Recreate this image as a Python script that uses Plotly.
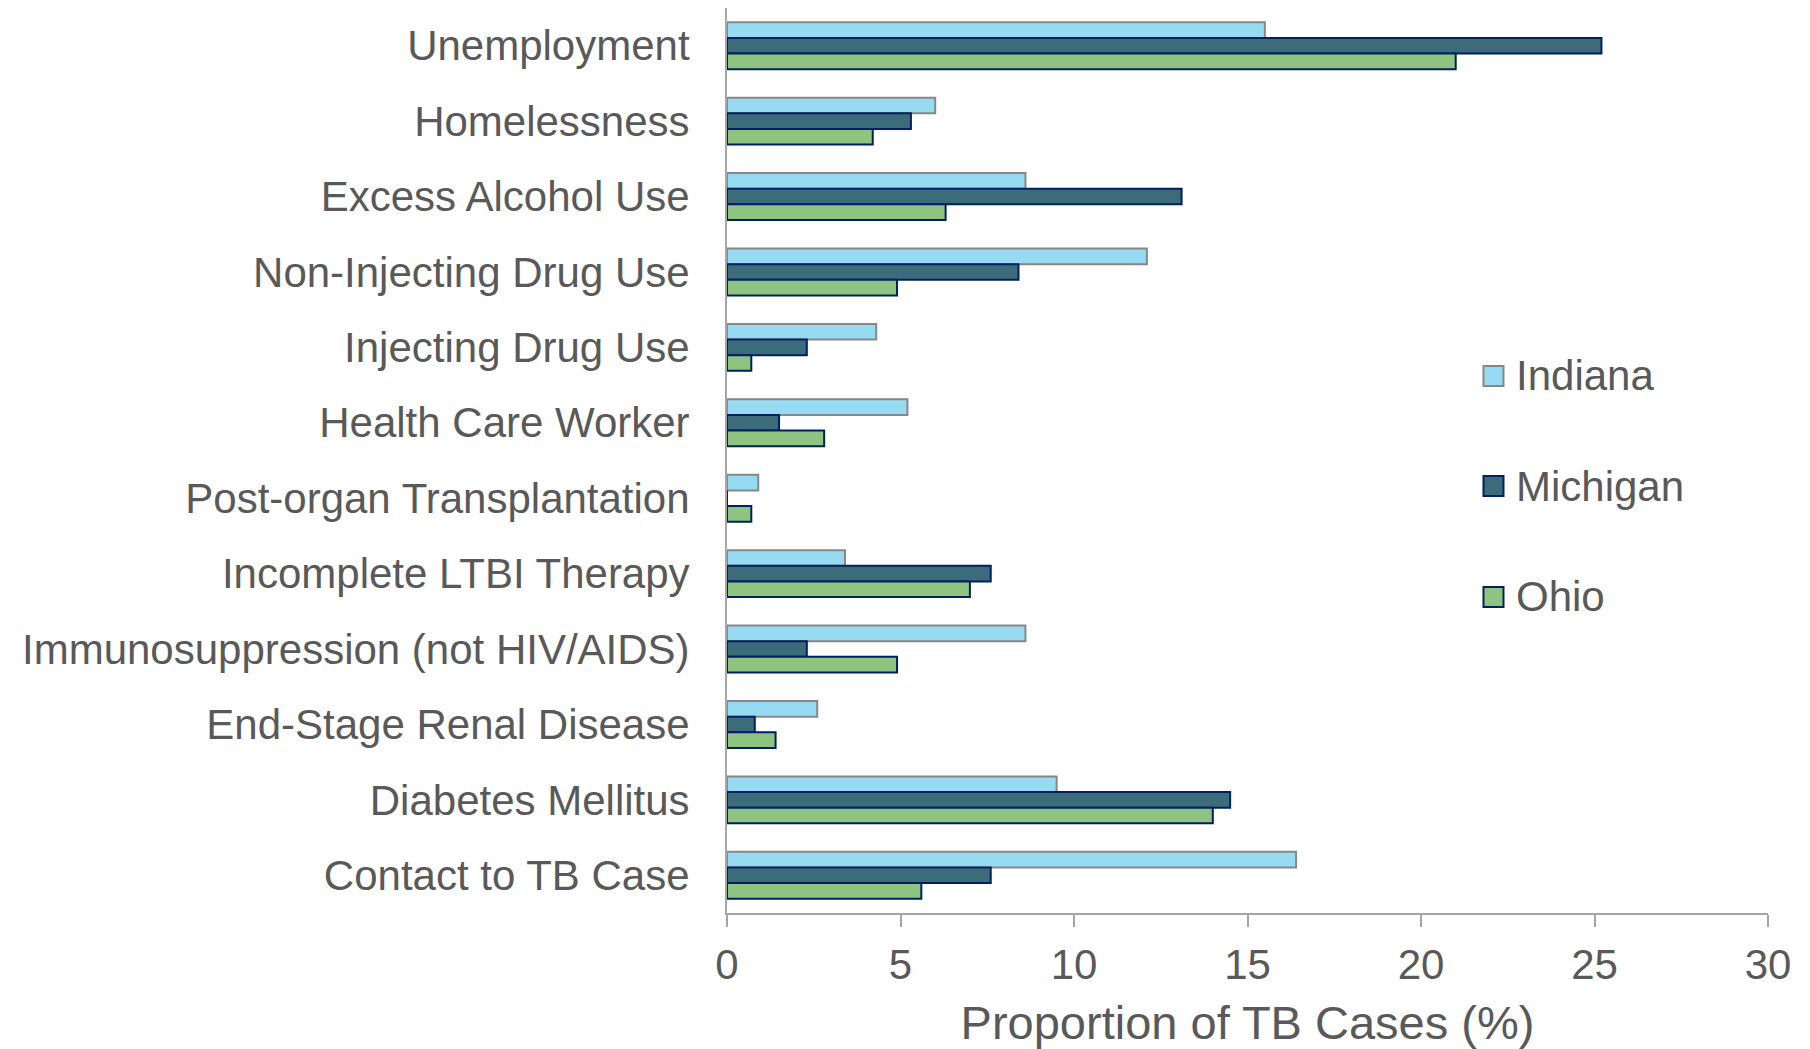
import plotly.graph_objects as go

categories = [
    "Unemployment",
    "Homelessness",
    "Excess Alcohol Use",
    "Non-Injecting Drug Use",
    "Injecting Drug Use",
    "Health Care Worker",
    "Post-organ Transplantation",
    "Incomplete LTBI Therapy",
    "Immunosuppression (not HIV/AIDS)",
    "End-Stage Renal Disease",
    "Diabetes Mellitus",
    "Contact to TB Case",
]
indiana = [15.5, 6.0, 8.6, 12.1, 4.3, 5.2, 0.9, 3.4, 8.6, 2.6, 9.5, 16.4]
michigan = [25.2, 5.3, 13.1, 8.4, 2.3, 1.5, 0.0, 7.6, 2.3, 0.8, 14.5, 7.6]
ohio = [21.0, 4.2, 6.3, 4.9, 0.7, 2.8, 0.7, 7.0, 4.9, 1.4, 14.0, 5.6]
series_names = ["Indiana", "Michigan", "Ohio"]
x_ticks = [0, 5, 10, 15, 20, 25, 30]

fills = ["#97DBF2", "#3C6B79", "#8EC480"]
borders = ["#878787", "#002060", "#002060"]
TEXT = "#595959"
AXIS = "#A6A6A6"
FONT = "Liberation Sans, Arial, sans-serif"

fig = go.Figure()
for name, vals, fc, lc in zip(series_names, [indiana, michigan, ohio], fills, borders):
    fig.add_trace(go.Bar(
        y=categories, x=vals, name=name, orientation="h",
        marker=dict(color=fc, line=dict(color=lc, width=2)),
        showlegend=False,
    ))

# custom legend
legend_y = [0.5934, 0.4718, 0.3492]
for name, fc, lc, yy in zip(series_names, fills, borders, legend_y):
    fig.add_shape(type="rect", xref="paper", yref="paper",
                  xsizemode="pixel", ysizemode="pixel",
                  xanchor=0.7363, yanchor=yy,
                  x0=-10, x1=10, y0=-10, y1=10,
                  fillcolor=fc, line=dict(color=lc, width=2))
    fig.add_annotation(xref="paper", yref="paper", x=0.756, y=yy,
                       xanchor="left", yanchor="middle", text=name,
                       showarrow=False, font=dict(size=42, color=TEXT, family=FONT))

fig.update_layout(
    width=1802, height=1041,
    margin=dict(l=719, r=42, t=0, b=136),
    paper_bgcolor="white", plot_bgcolor="white",
    barmode="group", bargap=0.377, bargroupgap=0,
    font=dict(family=FONT, color=TEXT, size=42),
)
fig.update_yaxes(
    autorange="reversed", showgrid=False, zeroline=False,
    showline=True, linecolor=AXIS, linewidth=2,
    ticks="", ticklabelstandoff=27,
    tickfont=dict(size=42, color=TEXT, family=FONT),
)
fig.update_xaxes(
    range=[0, 30], tickvals=x_ticks, showgrid=False, zeroline=False,
    showline=True, linecolor=AXIS, linewidth=1.5,
    ticks="outside", ticklen=12, tickcolor=AXIS, tickwidth=1.5,
    ticklabelstandoff=2,
    tickfont=dict(size=42, color=TEXT, family=FONT),
    title=dict(text="Proportion of TB Cases (%)", standoff=25,
               font=dict(size=47, color=TEXT, family=FONT)),
)

fig.write_html("out.html")
